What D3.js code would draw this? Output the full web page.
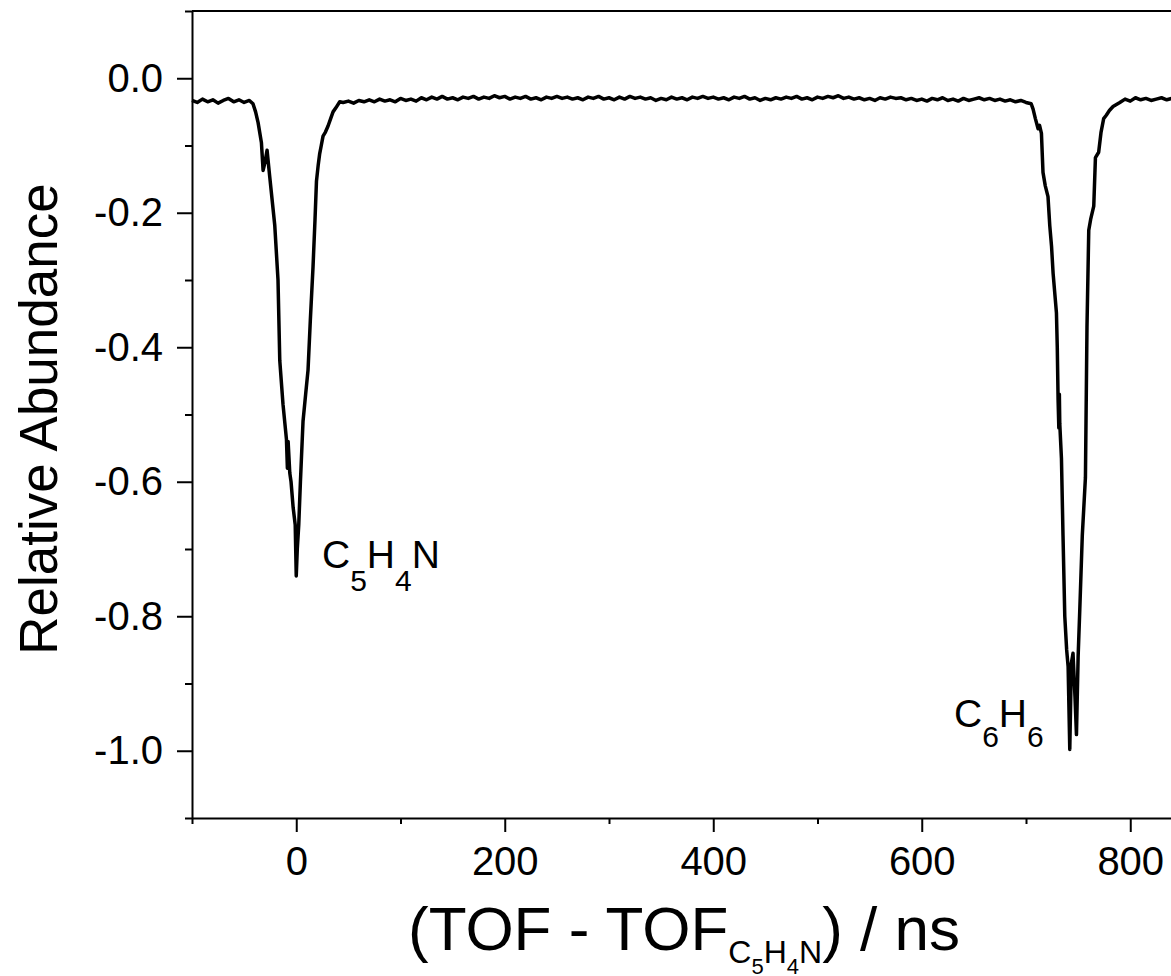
<!DOCTYPE html>
<html>
<head>
<meta charset="utf-8">
<script src="https://cdn.jsdelivr.net/npm/d3@7"></script>
<style>
  html, body { margin: 0; padding: 0; background: #fff; overflow: hidden; }
  svg { display: block; font-family: "Liberation Sans", Arial, sans-serif; }
</style>
</head>
<body>
<svg id="chart"></svg>
<script>
// time of flight offset (ns) and relative abundance
const tofNs = [
  -100, -95, -90, -85, -80, -75, -70, -65, -60, -55, -50, -45,
  -41.5, -39, -36.6, -33.4, -31.8, -30, -28, -25.4, -20.6, -17.5, -15.8, -12.7,
  -9.4, -8.5, -7.8, -6.2, -5, -3, -1, 0, 1, 2.4, 4, 6.5, 9, 11.3, 13.5, 16.1,
  18, 19.4, 21, 22.5, 24, 25.7, 28, 30.5, 33, 35.3, 38, 41.7,
  45, 50, 55, 60, 65, 70, 75, 80, 85, 90, 95, 100, 105, 110, 115, 120, 125, 130,
  135, 140, 145, 150, 155, 160, 165, 170, 175, 180, 185, 190, 195, 200, 205, 210,
  215, 220, 225, 230, 235, 240, 245, 250, 255, 260, 265, 270, 275, 280, 285, 290,
  295, 300, 305, 310, 315, 320, 325, 330, 335, 340, 345, 350, 355, 360, 365, 370,
  375, 380, 385, 390, 395, 400, 405, 410, 415, 420, 425, 430, 435, 440, 445, 450,
  455, 460, 465, 470, 475, 480, 485, 490, 495, 500, 505, 510, 515, 520, 525, 530,
  535, 540, 545, 550, 555, 560, 565, 570, 575, 580, 585, 590, 595, 600, 605, 610,
  615, 620, 625, 630, 635, 640, 645, 650, 655, 660, 665, 670, 675, 680, 685, 690,
  695, 700, 705,
  706.8, 709, 711.6, 713, 714.8, 716.3, 718.5, 721.1, 722.8, 724.5, 726, 729.2,
  730, 730.8, 731.5, 732, 732.4, 734, 735.5, 737.2, 739, 740.4, 742, 743.5, 745.1,
  747, 748.4, 750, 751.6, 754, 757, 758.5, 760.2, 762, 765, 766.6, 769.7, 772,
  774.5, 777, 780, 783.5,
  790, 795, 800, 805, 810, 815, 820, 825, 830, 835, 840, 845
];
const abundance = [
  -0.033, -0.036, -0.031, -0.035, -0.032, -0.037, -0.033, -0.030, -0.035, -0.032, -0.036, -0.033,
  -0.038, -0.050, -0.066, -0.096, -0.137, -0.125, -0.107, -0.147, -0.219, -0.300, -0.420, -0.485,
  -0.537, -0.580, -0.540, -0.587, -0.600, -0.638, -0.664, -0.740, -0.700, -0.664, -0.600, -0.510, -0.470, -0.434, -0.360, -0.280,
  -0.210, -0.153, -0.130, -0.112, -0.100, -0.086, -0.080, -0.071, -0.060, -0.050, -0.044, -0.035,
  -0.036, -0.034, -0.037, -0.033, -0.035, -0.032, -0.035, -0.031, -0.034, -0.032, -0.035, -0.030, -0.033, -0.031, -0.034, -0.029, -0.032, -0.028,
  -0.031, -0.027, -0.031, -0.029, -0.032, -0.028, -0.030, -0.027, -0.031, -0.028, -0.030, -0.026, -0.029, -0.027, -0.031, -0.028,
  -0.030, -0.027, -0.031, -0.029, -0.032, -0.028, -0.030, -0.027, -0.030, -0.028, -0.031, -0.029, -0.032, -0.028, -0.030, -0.027,
  -0.031, -0.029, -0.032, -0.028, -0.031, -0.027, -0.030, -0.028, -0.031, -0.029, -0.033, -0.030, -0.032, -0.028, -0.031, -0.029,
  -0.032, -0.028, -0.030, -0.027, -0.030, -0.028, -0.031, -0.029, -0.032, -0.028, -0.030, -0.027, -0.031, -0.029, -0.033, -0.030,
  -0.032, -0.029, -0.031, -0.028, -0.030, -0.027, -0.031, -0.029, -0.032, -0.028, -0.030, -0.027, -0.029, -0.026, -0.030, -0.028,
  -0.031, -0.029, -0.032, -0.030, -0.033, -0.029, -0.031, -0.028, -0.030, -0.029, -0.032, -0.030, -0.033, -0.031, -0.034, -0.030,
  -0.032, -0.029, -0.033, -0.031, -0.034, -0.030, -0.033, -0.031, -0.029, -0.032, -0.030, -0.033, -0.031, -0.034, -0.032, -0.035,
  -0.033, -0.036, -0.038,
  -0.046, -0.060, -0.075, -0.070, -0.082, -0.140, -0.160, -0.176, -0.219, -0.250, -0.290, -0.349,
  -0.400, -0.479, -0.520, -0.470, -0.514, -0.565, -0.680, -0.800, -0.850, -0.875, -0.998, -0.870, -0.855,
  -0.920, -0.976, -0.860, -0.790, -0.680, -0.594, -0.370, -0.226, -0.210, -0.190, -0.118, -0.110, -0.080,
  -0.060, -0.055, -0.048, -0.042,
  -0.036, -0.031, -0.034, -0.029, -0.032, -0.030, -0.033, -0.031, -0.029, -0.032, -0.030, -0.031
];

const xMajor = [0, 200, 400, 600, 800];
const xMinor = [-100, 100, 300, 500, 700, 900];
const yMajor = [0, -0.2, -0.4, -0.6, -0.8, -1.0];
const yMinor = [0.1, -0.1, -0.3, -0.5, -0.7, -0.9, -1.1];

const width = 1171, height = 976;
const plotLeft = 192, plotTop = 11, plotBottom = 818;

const svg = d3.select("#chart")
    .attr("width", width)
    .attr("height", height);

const x = d3.scaleLinear().domain([-100, 900]).range([plotLeft, plotLeft + 1042.5]);
const y = d3.scaleLinear().domain([-1.1, 0.1]).range([plotBottom, plotTop]);

const series = tofNs.map((t, i) => [t, abundance[i]]);

// frame top line
svg.append("line")
    .attr("x1", x(-100)).attr("x2", x(900))
    .attr("y1", y(0.1)).attr("y2", y(0.1))
    .attr("stroke", "#000").attr("stroke-width", 2);

// trace
svg.append("path")
    .datum(series)
    .attr("fill", "none")
    .attr("stroke", "#000")
    .attr("stroke-width", 3.5)
    .attr("stroke-linejoin", "round")
    .attr("d", d3.line().x(d => x(d[0])).y(d => y(d[1])));

// axes
svg.append("g")
    .attr("transform", `translate(0,${plotBottom})`)
    .call(d3.axisBottom(x).tickValues(xMajor).tickSize(14).tickSizeOuter(0).tickPadding(15)
        .tickFormat(d => String(d)));
svg.append("g")
    .attr("transform", `translate(0,${plotBottom})`)
    .call(d3.axisBottom(x).tickValues(xMinor).tickSize(6).tickFormat(""))
    .call(g => g.select(".domain").remove());

svg.append("g")
    .attr("transform", `translate(${plotLeft},0)`)
    .call(d3.axisLeft(y).tickValues(yMajor).tickSize(15).tickSizeOuter(0).tickPadding(14)
        .tickFormat(d => d.toFixed(1)));
svg.append("g")
    .attr("transform", `translate(${plotLeft},0)`)
    .call(d3.axisLeft(y).tickValues(yMinor).tickSize(7).tickFormat(""))
    .call(g => g.select(".domain").remove());

svg.selectAll(".domain, .tick line").attr("stroke", "#000").attr("stroke-width", 2);
svg.selectAll(".tick text")
    .attr("fill", "#000")
    .style("font-family", "'Liberation Sans', Arial, sans-serif")
    .style("font-size", "40px");

// axis titles
svg.append("text")
    .attr("transform", `translate(57,419) rotate(-90)`)
    .attr("text-anchor", "middle")
    .style("font-size", "53px")
    .text("Relative Abundance");

const xTitle = svg.append("text")
    .attr("x", 408).attr("y", 950)
    .style("font-size", "62px");
xTitle.append("tspan").text("(TOF - TOF");
xTitle.append("tspan").attr("dy", 13).style("font-size", "32px").text("C");
xTitle.append("tspan").attr("dy", 11).style("font-size", "22px").text("5");
xTitle.append("tspan").attr("dy", -11).style("font-size", "32px").text("H");
xTitle.append("tspan").attr("dy", 11).style("font-size", "22px").text("4");
xTitle.append("tspan").attr("dy", -11).style("font-size", "32px").text("N");
xTitle.append("tspan").attr("dy", -13).text(") / ns");

// peak labels
function formula(xPos, yPos, parts, drop) {
    const t = svg.append("text").attr("x", xPos).attr("y", yPos).style("font-size", "39px");
    let sub = false;
    parts.forEach(p => {
        const isSub = /\d/.test(p);
        const s = t.append("tspan").text(p);
        if (isSub) s.style("font-size", "30px");
        if (isSub && !sub) s.attr("dy", drop);
        else if (!isSub && sub) s.attr("dy", -drop);
        sub = isSub;
    });
}
formula(322, 568, ["C", "5", "H", "4", "N"], 23);
formula(954, 727, ["C", "6", "H", "6"], 20);
</script>
</body>
</html>
